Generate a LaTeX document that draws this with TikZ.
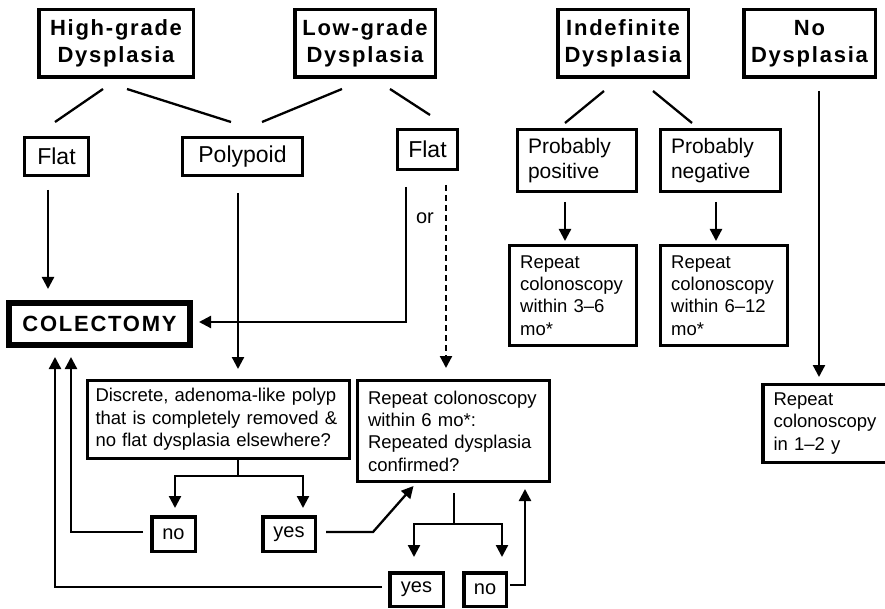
\documentclass[tikz,border=0pt]{standalone}
\usepackage{fontspec}
\setmainfont{Liberation Sans}
\newfontfamily\headfont{Liberation Sans}[LetterSpace=8]
\usetikzlibrary{arrows.meta}

\begin{document}
\begin{tikzpicture}[x=1pt,y=-1pt,
    headbox/.style={draw, line width=3.5pt, align=center, inner sep=2pt, minimum height=67.5pt,
      font=\headfont\bfseries\fontsize{22}{27}\selectfont},
    kindbox/.style={draw, line width=3.3pt, align=center, inner sep=2pt,
      font=\fontsize{23}{27}\selectfont},
    notebox/.style={draw, line width=3.3pt, align=left, inner xsep=10.5pt, inner ysep=0pt,
      font=\fontsize{18.5}{22.3}\selectfont},
    probbox/.style={notebox, font=\fontsize{21}{25}\selectfont},
    ansbox/.style={draw, line width=3.5pt, inner sep=0pt, font=\fontsize{20}{24}\selectfont},
    link/.style={line width=2.3pt},
    arr/.style={line width=2.3pt, -{Triangle[length=12pt,width=12pt]}}]
  \useasboundingbox (0,0) rectangle (885,609);
  % the four grades
  \node[headbox,minimum width=154.5pt] (hgd) at (116,43.5) {High-grade\\Dysplasia};
  \node[headbox,minimum width=140.5pt] (lgd) at (365,43.5) {Low-grade\\Dysplasia};
  \node[headbox,minimum width=130.5pt] (ind) at (623,43.5) {Indefinite\\Dysplasia};
  \node[headbox,minimum width=131.5pt] (nod) at (809.5,43.5) {No\\Dysplasia};
  % second row
  \node[kindbox,minimum width=63.7pt,minimum height=37.7pt] (flat1) at (56.5,156.5) {Flat};
  \node[kindbox,minimum width=119.7pt,minimum height=37.7pt] (poly) at (242.5,156.5) {Polypoid};
  \node[kindbox,minimum width=59.7pt,minimum height=39.7pt] (flat2) at (427.5,149.5) {Flat};
  \node[probbox,text width=98pt,minimum height=61.7pt] (pp) at (577,160.5) {Probably\\positive};
  \node[probbox,text width=99pt,minimum height=61.7pt] (pn) at (720.5,160.5) {Probably\\negative};
  % follow-up
  \node[notebox,text width=105.7pt,minimum height=99.7pt] (r36) at (573,295.5) {Repeat\\colonoscopy\\within 3–6\\mo*};
  \node[notebox,text width=105.7pt,minimum height=99.7pt] (r612) at (724,295.5) {Repeat\\colonoscopy\\within 6–12\\mo*};
  \node[notebox,text width=103pt,minimum height=77.7pt] (r12y) at (825,423.5) {Repeat\\colonoscopy\\in 1–2 y};
  \node[draw,line width=6pt,minimum width=181pt,minimum height=42pt,inner sep=0pt,
    font=\headfont\bfseries\fontsize{22}{26}\selectfont] (cole) at (99.5,324) {COLECTOMY};
  \node[notebox,inner xsep=8pt,text width=246pt,minimum height=77.7pt] (disc) at (218.5,419.5)
    {Discrete, adenoma-like polyp\\that is completely removed \&\\no flat dysplasia elsewhere?};
  \node[notebox,text width=171pt,minimum height=100.7pt] (rep6) at (453.5,431)
    {Repeat colonoscopy\\within 6 mo*:\\Repeated dysplasia\\confirmed?};
  \node[ansbox,minimum width=43.5pt,minimum height=34.5pt] (no1) at (173.5,534) {no};
  \node[ansbox,minimum width=52.5pt,minimum height=34.5pt] (yes1) at (289,534) {yes};
  \node[ansbox,minimum width=53.5pt,minimum height=33.5pt] (yes2) at (416.5,589.5) {yes};
  \node[ansbox,minimum width=42.5pt,minimum height=33.5pt] (no2) at (485,589.5) {no};
  \node[font=\fontsize{20}{24}\selectfont] (orlabel) at (425,218) {or};
  % grades to lesion types
  \draw[link] ([xshift=-13pt,yshift=-10pt]hgd.south) -- ([xshift=-1.5pt,yshift=14pt]flat1.north);
  \draw[link] ([xshift=11pt,yshift=-10pt]hgd.south) -- ([xshift=-11.5pt,yshift=14pt]poly.north);
  \draw[link] ([xshift=-23pt,yshift=-10pt]lgd.south) -- ([xshift=19.5pt,yshift=14pt]poly.north);
  \draw[link] ([xshift=25pt,yshift=-10pt]lgd.south) -- ([xshift=2.5pt,yshift=13pt]flat2.north);
  \draw[link] ([xshift=-19pt,yshift=-12pt]ind.south) -- ([xshift=-12pt,yshift=5pt]pp.north);
  \draw[link] ([xshift=30pt,yshift=-12pt]ind.south) -- ([xshift=-28.5pt,yshift=5pt]pn.north);
  % straight arrows down
  \draw[arr] ([xshift=-12pt,yshift=-9pt]pp.south) -- ([xshift=-8pt,yshift=3pt]r36.north);
  \draw[arr] ([xshift=-4.5pt,yshift=-9pt]pn.south) -- ([xshift=-8pt,yshift=3pt]r612.north);
  \draw[arr] ([xshift=9.5pt,yshift=-12pt]nod.south) -- ([xshift=-6pt,yshift=6pt]r12y.north);
  \draw[arr] ([xshift=-8.5pt,yshift=-13pt]flat1.south) -- ([xshift=-51.5pt,yshift=11pt]cole.north);
  \draw[arr] ([xshift=-4.5pt,yshift=-16pt]poly.south) -- ([xshift=19.5pt,yshift=10pt]disc.north);
  \draw[arr] ([xshift=-21.5pt,yshift=-16pt]flat2.south) |- ([xshift=6pt,yshift=2pt]cole.east);
  \draw[arr,dash pattern=on 6pt off 4pt] ([xshift=18.5pt,yshift=-14pt]flat2.south) -- ([xshift=-7.5pt,yshift=11pt]rep6.north);
  % answers of the polyp question
  \draw[link] ([xshift=19.5pt]disc.south) -- ++(0,16) coordinate (dsplit);
  \draw[arr] (dsplit) -| ([xshift=1.5pt,yshift=7pt]no1.north);
  \draw[arr] (dsplit) -| ([xshift=14pt,yshift=7pt]yes1.north);
  \draw[arr] ([xshift=-7pt,yshift=2pt]no1.west) -| ([xshift=-28.5pt,yshift=-9pt]cole.south);
  \draw[arr] ([xshift=9pt,yshift=2pt]yes1.east) -- ++(47,0) -- ([xshift=-40pt,yshift=-3pt]rep6.south);
  % answers of the repeat colonoscopy
  \draw[link] ([xshift=0.5pt,yshift=-10pt]rep6.south) -- ++(0,31) coordinate (rsplit);
  \draw[arr] (rsplit) -| ([xshift=-2.5pt,yshift=14pt]yes2.north);
  \draw[arr] (rsplit) -| ([xshift=17pt,yshift=14pt]no2.north);
  \draw[arr] ([xshift=-6pt,yshift=2.5pt]yes2.west) -| ([xshift=-44.5pt,yshift=-9pt]cole.south);
  \draw[arr] ([xshift=2pt,yshift=4.5pt]no2.east) -| ([xshift=71.5pt,yshift=-6pt]rep6.south);
\end{tikzpicture}
\end{document}
